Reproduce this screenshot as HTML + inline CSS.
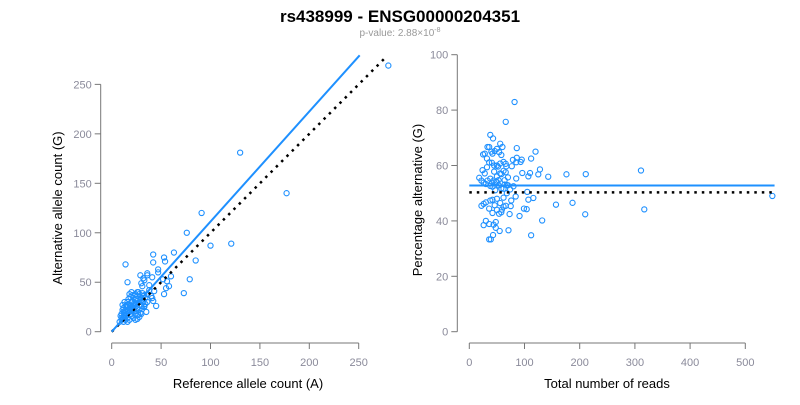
<!DOCTYPE html>
<html><head><meta charset="utf-8"><style>
body{margin:0;background:#fff;}
svg text{font-family:"Liberation Sans",Arial,sans-serif;}
</style></head><body>
<svg id="chart" width="800" height="400" viewBox="0 0 800 400" xmlns="http://www.w3.org/2000/svg">
<text x="400" y="22" text-anchor="middle" font-size="17" font-weight="bold" fill="#000">rs438999 - ENSG00000204351</text>
<text x="400" y="36" text-anchor="middle" font-size="10" fill="#999">p-value: 2.88×10<tspan dy="-4" font-size="7">-8</tspan></text>
<g id="left"></g>
<g id="right"></g>
</svg>
<script>
const refCounts=[280,130,177,91,76,100,121,63,42,53,42,54,85,14,47,47,36,36,29,16,41,60,79,56,52,58,55,73,53,33,30,31,38,43,41,42,45,33,32,
10,12,8,10,12,14,15,16,18,20,14,12,10,16,18,20,22,24,25,26,28,30,20,22,24,26,28,30,32,34,18,20,16,14,12,22,24,26,28,30,32,34,36,36,38,40,27,20,22,24,16,18,14,20,12,9,11,13,17,19,21,23,25,27,29,31,33,35,15,17,19,21,23,25,29,31,33,13,11,28,30,26,24,22];
const altCounts=[269,181,140,120,100,87,89,80,78,75,70,71,72,68,63,60,59,57,57,50,55,56,53,51,53,46,44,39,38,52,49,46,47,41,34,31,26,26,54,
12,10,10,14,16,12,18,14,20,18,22,20,18,25,27,24,20,18,28,24,22,26,30,34,32,36,30,34,30,28,38,40,30,26,24,28,38,40,38,32,36,34,30,38,42,36,40,16,14,12,10,12,16,22,14,16,22,19,21,26,31,27,21,17,19,23,25,20,27,33,35,37,24,33,35,39,37,30,27,15,18,13,29,26];
const leftXTicks=[0,50,100,150,200,250];
const leftYTicks=[0,50,100,150,200,250];
const rightXTicks=[0,100,200,300,400,500];
const rightYTicks=[0,20,40,60,80,100];
const fitSlope=1.113, fitEndX=251, nullEndX=277;
const meanPct=52.8, nullPct=50.3, maxTotal=553;

const NS="http://www.w3.org/2000/svg";
function el(p,t,a){const e=document.createElementNS(NS,t);for(const k in a)e.setAttribute(k,a[k]);p.appendChild(e);return e;}
const lx=v=>111.7+v*0.988, ly=v=>331.7-v*0.9893;
const rx=v=>469.3+v*0.552, ry=v=>331.7-v*2.77;
const tickCol="#8a8a9a", axCol="#777";

function axes(g,xs,ys,xt,yt,axX,xname,yname,xlab,ylab,ylabX,xlabX,ylabY){
  let e=el(g,'line',{x1:axX,x2:axX,y1:ys(yt[0]),y2:ys(yt[yt.length-1]),stroke:axCol});
  
  yt.forEach(t=>{el(g,'line',{x1:axX-6,x2:axX,y1:ys(t),y2:ys(t),stroke:axCol});
    const tx=el(g,'text',{x:axX-9,y:ys(t)+4,'text-anchor':'end','font-size':11,fill:tickCol});tx.textContent=t;
    });
  e=el(g,'line',{x1:xs(xt[0]),x2:xs(xt[xt.length-1]),y1:343,y2:343,stroke:axCol});
  
  xt.forEach(t=>{el(g,'line',{x1:xs(t),x2:xs(t),y1:343,y2:349,stroke:axCol});
    const tx=el(g,'text',{x:xs(t),y:366,'text-anchor':'middle','font-size':11,fill:tickCol});tx.textContent=t;
    });
  const xl=el(g,'text',{x:xlabX,y:388,'text-anchor':'middle','font-size':13,fill:'#000'});xl.textContent=xlab;
  
  const yl=el(g,'text',{x:ylabX,y:ylabY,'text-anchor':'middle','font-size':13,fill:'#000',transform:`rotate(-90 ${ylabX} ${ylabY})`});yl.textContent=ylab;
  
}
const L=document.getElementById('left'),R=document.getElementById('right');
axes(L,lx,ly,leftXTicks,leftYTicks,100.7,'left-x-axis','left-y-axis','Reference allele count (A)','Alternative allele count (G)',62,248,208);
axes(R,rx,ry,rightXTicks,rightYTicks,457.3,'right-x-axis','right-y-axis','Total number of reads','Percentage alternative (G)',422,607,200);

refCounts.forEach((r,i)=>{const c=el(L,'circle',{cx:lx(r),cy:ly(altCounts[i]),r:2.6,fill:'none',stroke:'#1e90ff','stroke-width':1.1});
  });
let ln=el(L,'line',{x1:lx(0),y1:ly(0),x2:lx(nullEndX),y2:ly(nullEndX),stroke:'#000','stroke-width':2.5,'stroke-dasharray':'2.5,5'});

ln=el(L,'line',{x1:lx(0),y1:ly(0),x2:lx(fitEndX),y2:ly(fitEndX*fitSlope),stroke:'#1e90ff','stroke-width':2});


refCounts.forEach((r,i)=>{const a=altCounts[i],t=r+a;const c=el(R,'circle',{cx:rx(t),cy:ry(100*a/t),r:2.6,fill:'none',stroke:'#1e90ff','stroke-width':1.1});
  });
ln=el(R,'line',{x1:rx(0),y1:ry(nullPct),x2:rx(maxTotal),y2:ry(nullPct),stroke:'#000','stroke-width':2.5,'stroke-dasharray':'2.5,5'});

ln=el(R,'line',{x1:rx(0),y1:ry(meanPct),x2:rx(maxTotal),y2:ry(meanPct),stroke:'#1e90ff','stroke-width':2});

</script>
</body></html>
